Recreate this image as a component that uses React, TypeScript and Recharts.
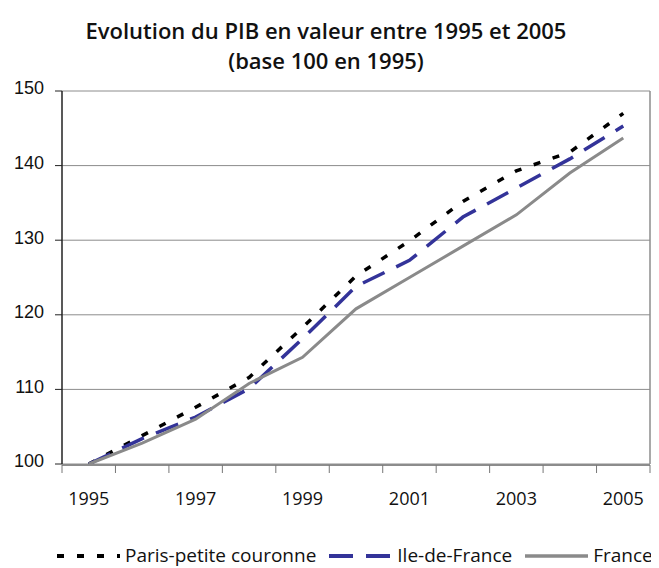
import React from "react";
import { LineChart, Line, XAxis, YAxis, CartesianGrid, Legend, ReferenceLine } from "recharts";

const years = [1995, 1996, 1997, 1998, 1999, 2000, 2001, 2002, 2003, 2004, 2005];
const parisPetiteCouronne = [100, 103.8, 107.6, 111.6, 118.3, 125.2, 129.9, 135.2, 139.3, 141.8, 147.0];
const ileDeFrance = [100, 103.4, 106.3, 110.1, 116.8, 123.8, 127.3, 133.1, 137.0, 140.9, 145.3];
const france = [100, 102.8, 106.0, 110.8, 114.3, 120.8, 125.0, 129.2, 133.4, 139.0, 143.7];
const yTicks = [100, 110, 120, 130, 140, 150];
const xLabelTicks = [1995, 1997, 1999, 2001, 2003, 2005];
const seriesNames = ["Paris-petite couronne", "Ile-de-France", "France"];
const titleLines = ["Evolution du PIB en valeur entre 1995 et 2005", "(base 100 en 1995)"];

const data = years.map((y, i) => ({
  year: y,
  paris: parisPetiteCouronne[i],
  idf: ileDeFrance[i],
  france: france[i],
}));
const boundaryTicks = [...years.map((y) => y - 0.5), years[years.length - 1] + 0.5];
const xDomain = [boundaryTicks[0], boundaryTicks[boundaryTicks.length - 1]];

const styles = [
  { key: "paris", color: "#000000", width: 3.5, dash: "7 13" },
  { key: "idf", color: "#333399", width: 3.5, dash: "24 13" },
  { key: "france", color: "#8a8a8a", width: 3, dash: undefined as string | undefined },
];

const LegendContent = () => (
  <div style={{ display: "flex", alignItems: "center", fontFamily: "'Open Sans', sans-serif", fontSize: 19, lineHeight: "19px", height: 19, color: "#111", whiteSpace: "nowrap" }}>
    {styles.map((s, i) => (
      <div key={s.key} style={{ display: "flex", alignItems: "center", marginRight: i < styles.length - 1 ? 13 : 0 }}>
        <svg width={63} height={10} style={{ marginRight: 5 }}>
          <line x1={0} y1={5} x2={63} y2={5} stroke={s.color} strokeWidth={s.width + 0.5} strokeDasharray={s.dash} />
        </svg>
        <span>{seriesNames[i]}</span>
      </div>
    ))}
  </div>
);

export default function App() {
  return (
    <div style={{ position: "relative", margin: "-8px 0 0 -8px", width: 659, height: 568, background: "#fff" }}>
      <div style={{ position: "absolute", left: 0, top: 15, width: 652, textAlign: "center", fontFamily: "'Open Sans', sans-serif", fontWeight: 600, fontSize: 22, lineHeight: "30px", color: "#111" }}>
        <div>{titleLines[0]}</div>
        <div>{titleLines[1]}</div>
      </div>
      <LineChart width={659} height={568} data={data} margin={{ top: 91, right: 9, bottom: 102, left: 8 }}>
        <CartesianGrid vertical={false} stroke="#8c8c8c" strokeWidth={1} />
        <XAxis
          xAxisId="b"
          dataKey="year"
          type="number"
          domain={xDomain}
          ticks={boundaryTicks}
          height={1}
          tickSize={8}
          tickFormatter={() => ""}
          tickLine={{ stroke: "#777", strokeWidth: 1 }}
          axisLine={{ stroke: "#8c8c8c", strokeWidth: 2 }}
          interval={0}
          allowDataOverflow
        />
        <XAxis
          dataKey="year"
          type="number"
          domain={xDomain}
          ticks={xLabelTicks}
          height={1}
          tickLine={false}
          axisLine={false}
          tickSize={0}
          tickMargin={28}
          tick={{ fontFamily: "'Open Sans', sans-serif", fontSize: 18, fill: "#111" }}
          interval={0}
          allowDataOverflow
        />
        <YAxis
          domain={[100, 150]}
          ticks={yTicks}
          width={54}
          tickSize={7}
          tickMargin={11}
          interval={0}
          axisLine={{ stroke: "#222", strokeWidth: 1.5 }}
          tickLine={{ stroke: "#222", strokeWidth: 1 }}
          tick={{ fontFamily: "'Liberation Sans', Arial, sans-serif", fontSize: 18, fill: "#111", dy: -3 }}
        />
        <ReferenceLine x={xDomain[1]} stroke="#8c8c8c" strokeWidth={1.5} />
        {styles.map((s, i) => (
          <Line
            key={s.key}
            dataKey={s.key}
            name={seriesNames[i]}
            type="linear"
            stroke={s.color}
            strokeWidth={s.width}
            strokeDasharray={s.dash}
            dot={false}
            activeDot={false}
            isAnimationActive={false}
          />
        ))}
        <Legend
          layout="horizontal"
          verticalAlign="middle"
          align="center"
          content={LegendContent}
          wrapperStyle={{ left: 57, top: 546, width: 600, height: 20 }}
        />
      </LineChart>
    </div>
  );
}
